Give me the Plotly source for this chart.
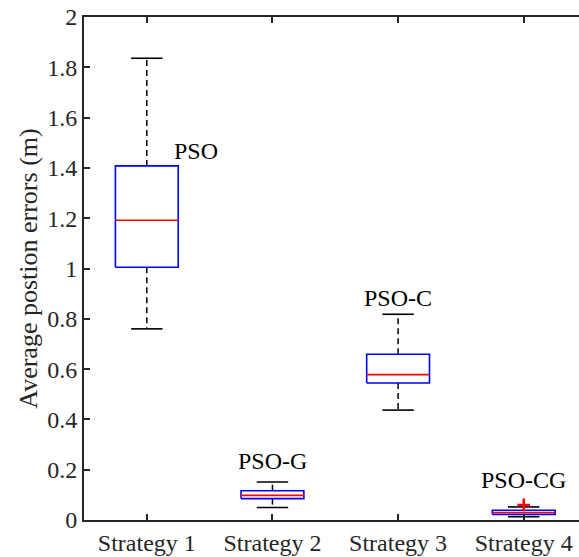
import plotly.graph_objects as go

categories = ["Strategy 1", "Strategy 2", "Strategy 3", "Strategy 4"]
lower_whisker = [0.76, 0.050, 0.437, 0.013]
q1 = [1.005, 0.085, 0.545, 0.0225]
median = [1.192, 0.098, 0.578, 0.030]
q3 = [1.408, 0.1165, 0.659, 0.0385]
upper_whisker = [1.836, 0.151, 0.818, 0.052]
outlier_x = ["Strategy 4"]
outlier_y = [0.060]
labels = ["PSO", "PSO-G", "PSO-C", "PSO-CG"]
label_x = [1.39, 2.0, 3.0, 4.0]
label_y = [1.467, 0.235, 0.883, 0.159]
yticks = [0, 0.2, 0.4, 0.6, 0.8, 1, 1.2, 1.4, 1.6, 1.8, 2]

FONT = "'Times New Roman', 'Liberation Serif', 'DejaVu Serif', serif"
HW = 0.25   # half box width
CW = 0.125  # half cap width

fig = go.Figure()
for i, cat in enumerate(categories):
    x = i + 1
    fig.add_trace(go.Scatter(x=[x, x, None, x, x],
                             y=[q3[i], upper_whisker[i], None, q1[i], lower_whisker[i]],
                             mode="lines", line=dict(color="black", width=1.5, dash="6px,4px"),
                             hoverinfo="skip", showlegend=False))
    fig.add_trace(go.Scatter(x=[x - CW, x + CW, None, x - CW, x + CW],
                             y=[upper_whisker[i], upper_whisker[i], None, lower_whisker[i], lower_whisker[i]],
                             mode="lines", line=dict(color="black", width=1.6),
                             hoverinfo="skip", showlegend=False))
    fig.add_trace(go.Scatter(x=[x - HW, x + HW, x + HW, x - HW, x - HW],
                             y=[q1[i], q1[i], q3[i], q3[i], q1[i]],
                             mode="lines", line=dict(color="#0000ff", width=1.6),
                             hoverinfo="skip", showlegend=False))
    fig.add_trace(go.Scatter(x=[x - HW, x + HW], y=[median[i], median[i]],
                             mode="lines", line=dict(color="#ff0000", width=1.6),
                             hoverinfo="skip", showlegend=False))

ox = [categories.index(c) + 1 for c in outlier_x]
fig.add_trace(go.Scatter(x=ox, y=outlier_y, mode="markers",
                         marker=dict(symbol="cross-thin", size=9, line=dict(color="#ff0000", width=2.5)),
                         hoverinfo="skip", showlegend=False))

for t, lx, ly in zip(labels, label_x, label_y):
    fig.add_annotation(x=lx, y=ly, text=t, showarrow=False,
                       font=dict(family=FONT, size=24, color="black"))

fig.update_layout(
    width=579, height=557,
    margin=dict(l=84, r=0, t=17, b=37),
    paper_bgcolor="white", plot_bgcolor="white",
    font=dict(family=FONT, size=24, color="#262626"),
)
fig.update_xaxes(range=[0.5, 4.44], tickvals=[1, 2, 3, 4], ticktext=categories,
                 showline=True, linecolor="#262626", linewidth=1.8, mirror="ticks",
                 ticks="inside", ticklen=6, tickwidth=1.8, tickcolor="#262626",
                 showgrid=False, zeroline=False, tickfont=dict(family=FONT, size=24, color="#262626"))
fig.update_yaxes(range=[0, 2], tickvals=yticks, ticktext=[f"{v:g}" for v in yticks],
                 showline=True, linecolor="#262626", linewidth=1.8, mirror=False,
                 ticks="inside", ticklen=6, tickwidth=1.8, tickcolor="#262626",
                 showgrid=False, zeroline=False, tickfont=dict(family=FONT, size=24, color="#262626"),
                 title=dict(text="Average postion errors (m)", font=dict(family=FONT, size=26, color="#262626"), standoff=2))

fig.write_html("out.html")
